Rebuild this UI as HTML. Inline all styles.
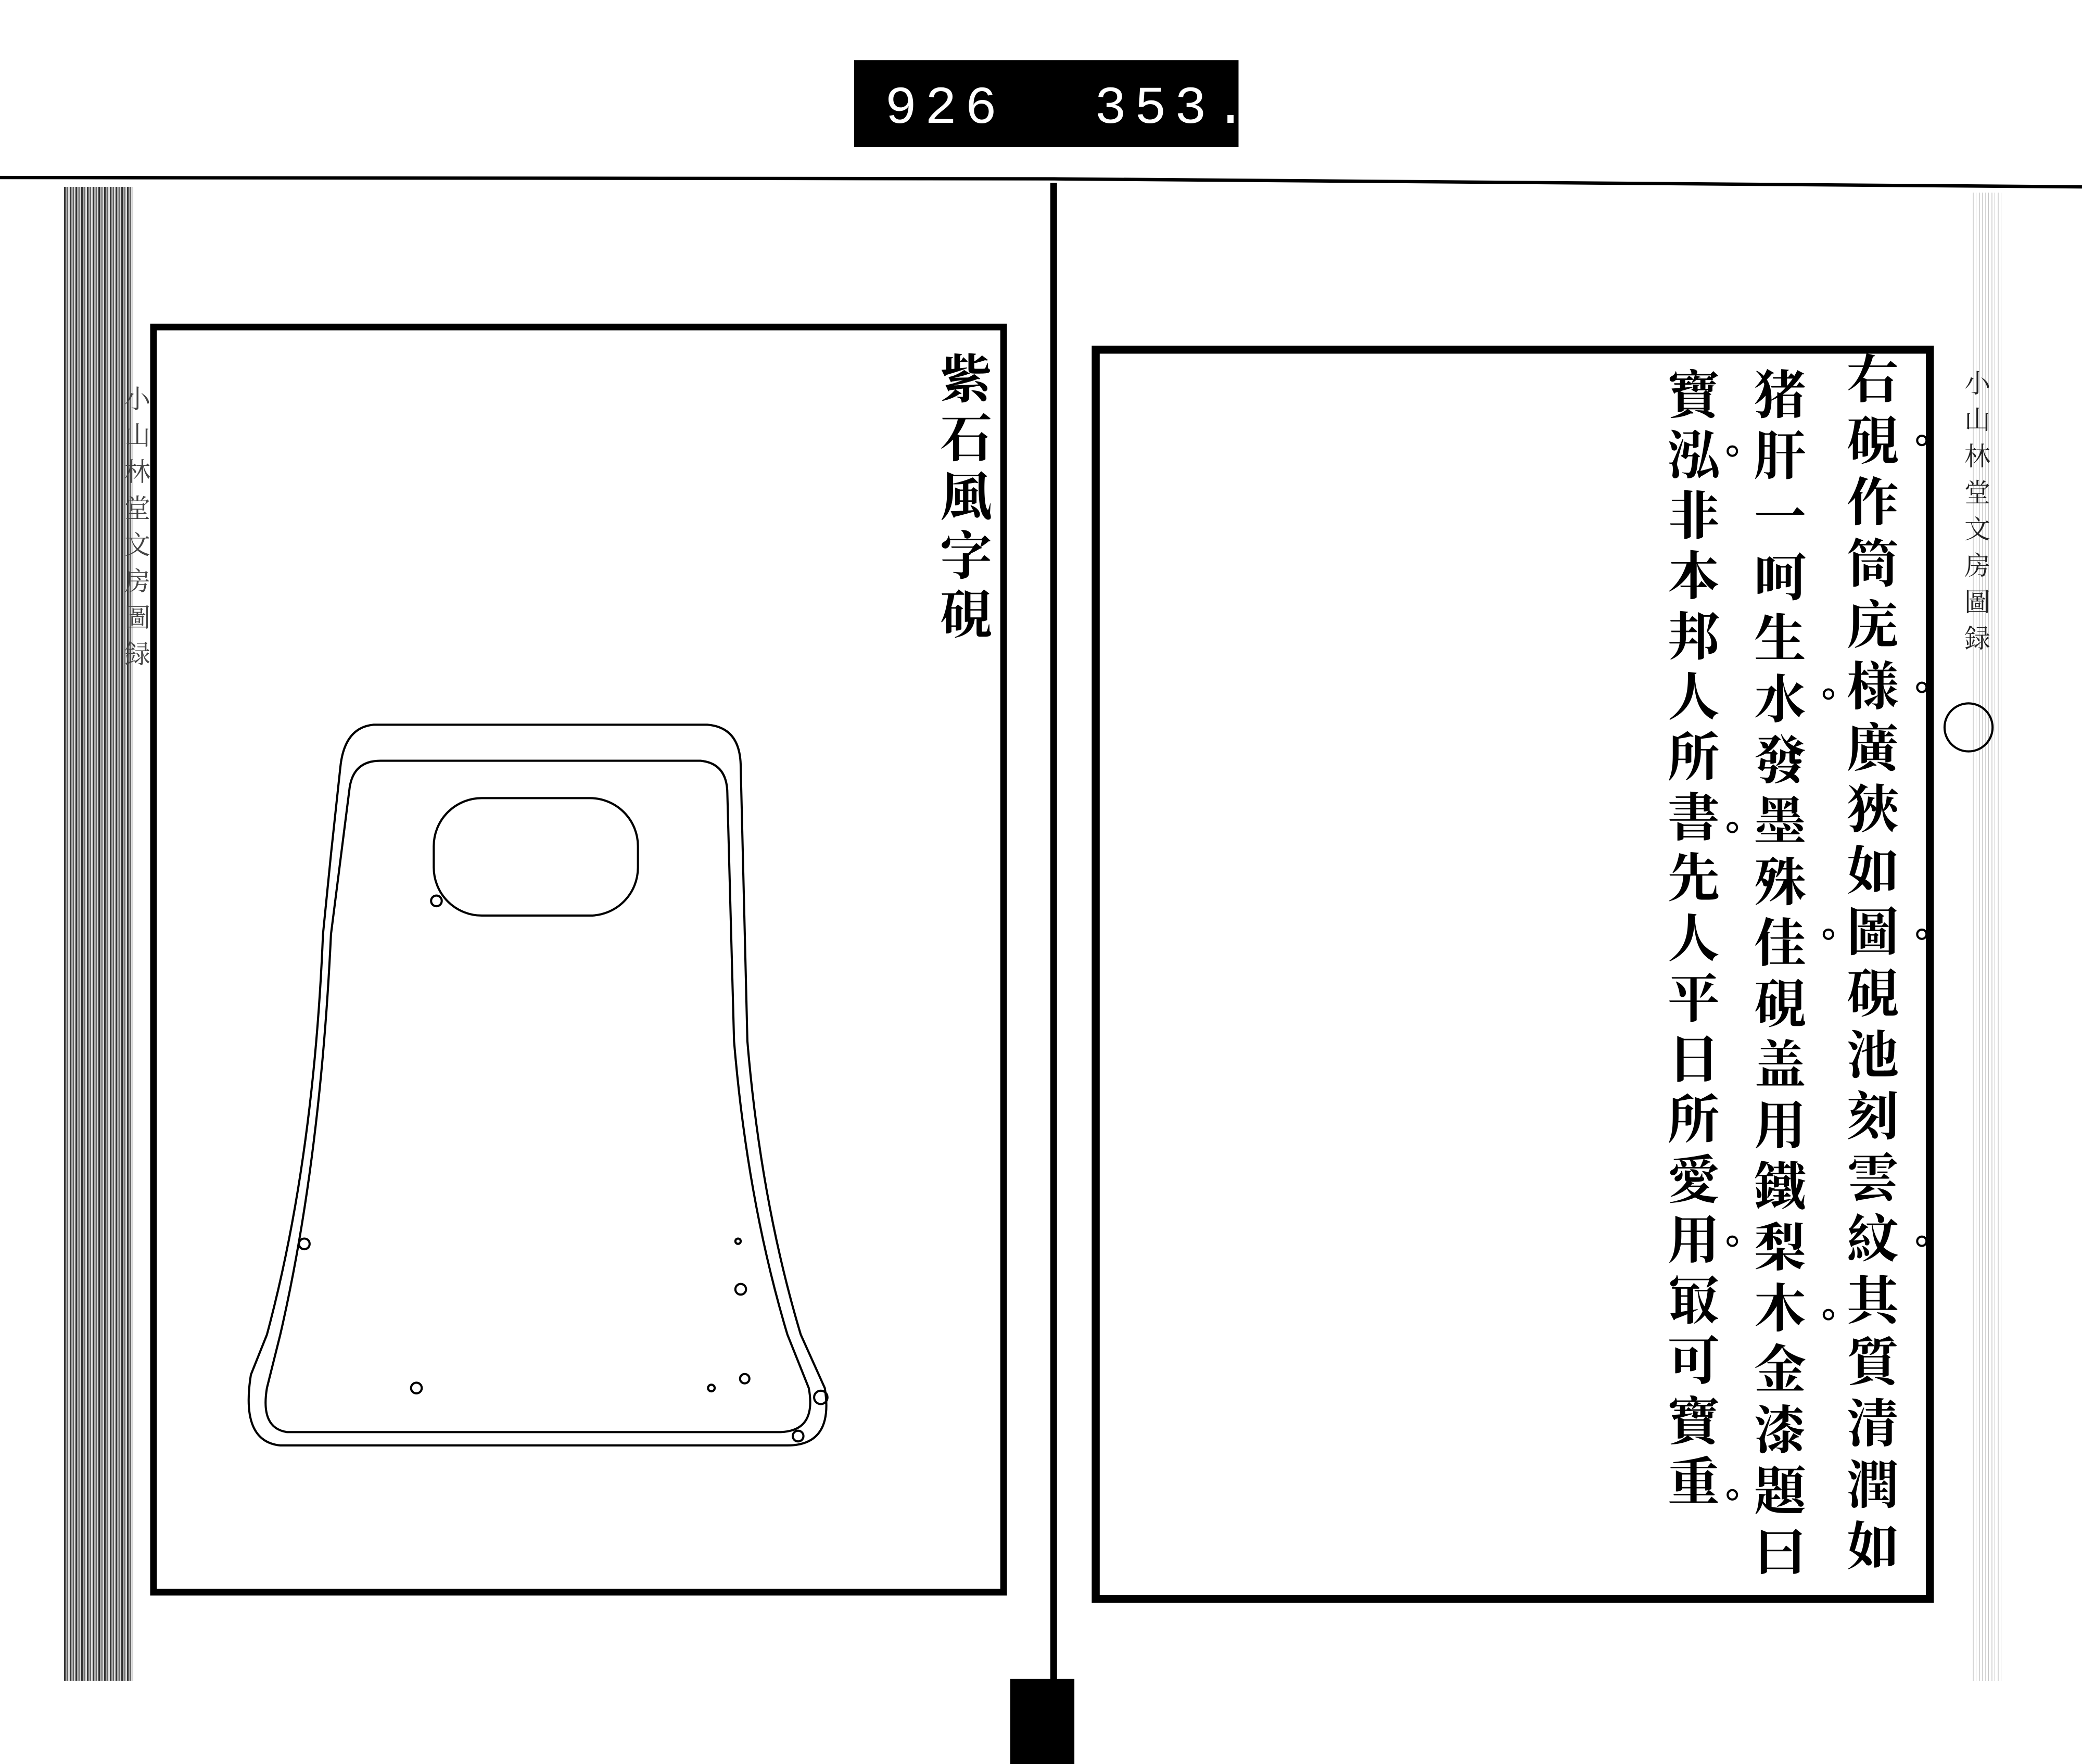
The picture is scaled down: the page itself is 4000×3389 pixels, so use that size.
<!DOCTYPE html>
<html><head><meta charset="utf-8">
<style>
html,body{margin:0;padding:0;background:#fff;}
body{width:4000px;height:3389px;position:relative;overflow:hidden;}
.v{position:absolute;writing-mode:vertical-rl;font-family:"Liberation Serif","Noto Serif CJK SC","Noto Sans CJK JP",serif;color:#000;white-space:nowrap;}
.col{font-size:100px;line-height:100px;font-weight:bold;}
.ttl{font-size:100px;letter-spacing:13px;line-height:100px;font-weight:bold;}
.hdr{font-size:50px;letter-spacing:20px;line-height:50px;color:#222;}
.stack{position:absolute;left:123px;top:359px;width:133px;height:2870px;
background:repeating-linear-gradient(90deg,#333 0 3px,#aaa 3px 6px,#666 6px 8px,#ddd 8px 11px);}
</style></head><body>
<div class="stack"></div>
<div style="position:absolute;left:3790px;top:370px;width:60px;height:2860px;background:repeating-linear-gradient(90deg,#bbb 0 2px,#fff 2px 6px,#999 6px 7px,#fff 7px 12px);opacity:.6"></div>
<svg width="4000" height="3389" viewBox="0 0 1560 1321.7" style="position:absolute;left:0;top:0">
<rect x="640" y="45" width="288" height="65" fill="#000"/>
<text x="663" y="92" font-family="Liberation Mono,monospace" font-size="40" fill="#fff" letter-spacing="6">926</text>
<text x="820" y="92" font-family="Liberation Mono,monospace" font-size="40" fill="#fff" letter-spacing="6">353.</text>
<path d="M0,133 L790,134 L1560,140" stroke="#000" stroke-width="2.5" fill="none"/>
<rect x="787" y="137" width="5" height="1125" fill="#000"/>
<rect x="757" y="1258" width="48" height="64" fill="#000"/>
<rect x="115" y="245" width="637" height="948" fill="none" stroke="#000" stroke-width="5"/>
<rect x="821" y="262" width="625" height="936" fill="none" stroke="#000" stroke-width="6"/>
<g fill="none" stroke="#000" stroke-width="1.6">
<path d="M280,543 L530,543 Q555,545 555,575 L560,780 Q570,900 600,1000 L618,1040 Q625,1083 590,1083 L210,1083 Q180,1080 188,1030 L200,1000 Q235,870 242,700 L248,640 L255,575 Q258,545 280,543 Z"/>
<path d="M285,570 L525,570 Q545,572 545,595 L550,780 Q560,900 590,1000 L606,1040 Q612,1072 585,1073 L215,1073 Q195,1070 200,1040 L210,1000 Q240,870 248,700 L262,590 Q265,570 285,570 Z"/>
<rect x="325" y="598" width="153" height="88" rx="36"/>
<circle cx="327" cy="675" r="4"/><circle cx="228" cy="932" r="4"/><circle cx="553" cy="930" r="2"/>
<circle cx="555" cy="966" r="4"/><circle cx="312" cy="1040" r="4"/><circle cx="533" cy="1040" r="2.5"/>
<circle cx="558" cy="1033" r="3.5"/><circle cx="615" cy="1047" r="5"/><circle cx="598" cy="1076" r="4"/>
<circle cx="1475" cy="545" r="18"/>
<circle cx="1440" cy="330" r="3.5"/><circle cx="1440" cy="515" r="3.5"/><circle cx="1440" cy="700" r="3.5"/><circle cx="1440" cy="930" r="3.5"/>
<circle cx="1370" cy="520" r="3.5"/><circle cx="1370" cy="700" r="3.5"/><circle cx="1370" cy="985" r="3.5"/>
<circle cx="1298" cy="338" r="3.5"/><circle cx="1298" cy="620" r="3.5"/><circle cx="1298" cy="930" r="3.5"/><circle cx="1298" cy="1120" r="3.5"/>
</g>
</svg>
<div class="v ttl" style="left:1796px;top:676px;">紫石風字硯</div>
<div class="v col" style="left:3538px;top:676px;letter-spacing:18px;">右硯作筒庑様廣狹如圖硯池刻雲紋其質清潤如</div>
<div class="v col" style="left:3360px;top:706px;letter-spacing:17px;">猪肝一呵生水發墨殊佳硯盖用鐵梨木金漆題曰</div>
<div class="v col" style="left:3194px;top:706px;letter-spacing:16px;">寶泓非本邦人所書先人平日所愛用冣可寶重</div>
<div class="v hdr" style="left:3770px;top:710px;">小山林堂文房圖録</div>
<div class="v hdr" style="left:235px;top:740px;color:#444;">小山林堂文房圖録</div>
</body></html>
